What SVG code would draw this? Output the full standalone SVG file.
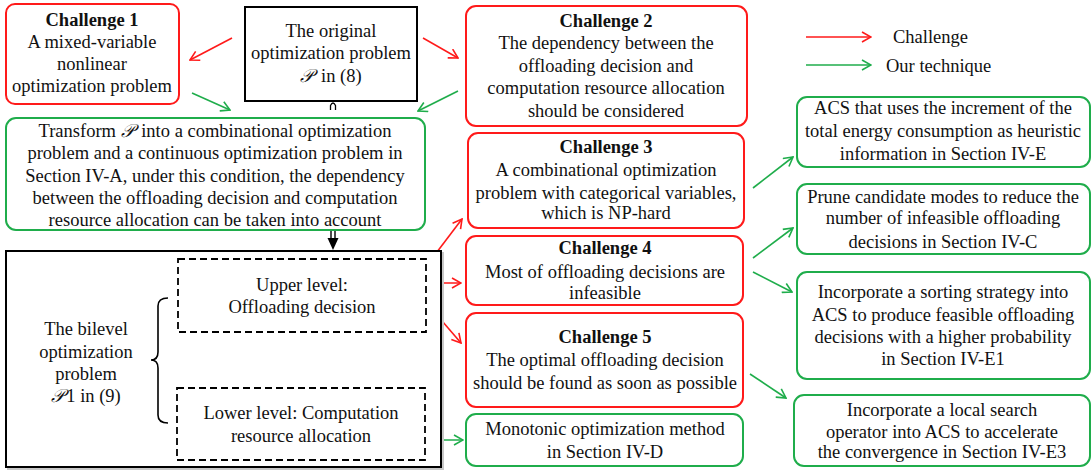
<svg xmlns="http://www.w3.org/2000/svg" width="1091" height="473" viewBox="0 0 1091 473">
<defs>
<style>
text{font-family:"Liberation Serif","Times New Roman",serif;font-size:18.5px;fill:#111;text-anchor:middle}
.b{font-weight:bold}
.p{font-style:italic}
.red{fill:#fff;stroke:#ff1a1a;stroke-width:2}
.grn{fill:#fff;stroke:#1fad4b;stroke-width:2}
.blk{fill:#fff;stroke:#000;stroke-width:2}
.dsh{fill:none;stroke:#000;stroke-width:1.8;stroke-dasharray:7,4}
.ar{stroke:#ff1a1a;stroke-width:1.6;fill:none;marker-end:url(#mr)}
.ag{stroke:#1fad4b;stroke-width:1.6;fill:none;marker-end:url(#mg)}
</style>
<marker id="mr" viewBox="0 0 12 12" refX="11" refY="6" markerWidth="12" markerHeight="12" markerUnits="userSpaceOnUse" orient="auto"><path d="M2,1 L11,6 L2,11" fill="none" stroke="#ff1a1a" stroke-width="1.6"/></marker>
<marker id="mg" viewBox="0 0 12 12" refX="11" refY="6" markerWidth="12" markerHeight="12" markerUnits="userSpaceOnUse" orient="auto"><path d="M2,1 L11,6 L2,11" fill="none" stroke="#1fad4b" stroke-width="1.6"/></marker>
</defs>
<rect width="1091" height="473" fill="#fff"/>

<g id="connectors">
<line class="ar" x1="232" y1="38" x2="190" y2="60"/>
<line class="ar" x1="423" y1="38" x2="458" y2="58"/>
<line class="ag" x1="192" y1="93" x2="230" y2="110"/>
<line class="ag" x1="458" y1="91" x2="418" y2="111"/>
<path d="M330.5,110 V105.5 Q333,100.5 335.5,105.5 V110" fill="none" stroke="#000" stroke-width="1.3"/>
<path d="M331,230 V240 M335,230 V240" stroke="#000" stroke-width="1.4"/>
<path d="M327.5,238 L338.5,238 L333,250 Z" fill="#000"/>
<line class="ar" x1="418" y1="277" x2="462" y2="219"/>
<line class="ar" x1="418" y1="283" x2="461" y2="283"/>
<line class="ar" x1="418" y1="293" x2="461" y2="343"/>
<line class="ag" x1="417" y1="440" x2="463" y2="440"/>
<line class="ag" x1="753" y1="188" x2="793" y2="157"/>
<line class="ag" x1="753" y1="258" x2="793" y2="228"/>
<line class="ag" x1="753" y1="272" x2="792" y2="292"/>
<line class="ag" x1="750" y1="374" x2="786" y2="398"/>
</g>

<g id="legend">
<line class="ar" x1="806" y1="37" x2="871" y2="37"/>
<text x="893" y="43" style="text-anchor:start">Challenge</text>
<line class="ag" x1="806" y1="65" x2="871" y2="65"/>
<text x="886" y="72" style="text-anchor:start">Our technique</text>
</g>

<g id="challenge1">
<rect class="red" x="6" y="4" width="173" height="100" rx="9"/>
<text class="b" x="92" y="26">Challenge 1</text>
<text x="92" y="48">A mixed-variable</text>
<text x="92" y="70">nonlinear</text>
<text x="92" y="92">optimization problem</text>
</g>

<g id="original">
<rect class="blk" x="245" y="7" width="172" height="94"/>
<text x="331" y="37">The original</text>
<text x="331" y="59">optimization problem</text>
<text x="331" y="82"><tspan class="p">𝒫</tspan><tspan dx="3"> in (8)</tspan></text>
</g>

<g id="challenge2">
<rect class="red" x="466" y="6" width="281" height="120" rx="10"/>
<text class="b" x="606" y="27">Challenge 2</text>
<text x="606" y="49">The dependency between the</text>
<text x="606" y="72">offloading decision and</text>
<text x="606" y="94">computation resource allocation</text>
<text x="606" y="117">should be considered</text>
</g>

<g id="transform">
<rect class="grn" x="6" y="118" width="419" height="112" rx="10"/>
<text x="215" y="137">Transform <tspan class="p">𝒫</tspan><tspan dx="3"> into a combinational optimization</tspan></text>
<text x="215" y="159">problem and a continuous optimization problem in</text>
<text x="215" y="182">Section IV-A, under this condition,  the dependency</text>
<text x="215" y="204">between the offloading decision and computation</text>
<text x="215" y="226">resource allocation can be taken into account</text>
</g>

<g id="challenge3">
<rect class="red" x="468" y="133" width="276" height="95" rx="10"/>
<text class="b" x="606" y="153">Challenge 3</text>
<text x="606" y="176">A combinational optimization</text>
<text x="606" y="199">problem with categorical variables,</text>
<text x="606" y="219">which is NP-hard</text>
</g>

<g id="challenge4">
<rect class="red" x="466" y="236" width="277" height="69" rx="10"/>
<text class="b" x="605" y="254">Challenge 4</text>
<text x="605" y="278">Most of offloading decisions are</text>
<text x="605" y="299">infeasible</text>
</g>

<g id="challenge5">
<rect class="red" x="466" y="313" width="277" height="94" rx="10"/>
<text class="b" x="605" y="343">Challenge 5</text>
<text x="605" y="366">The optimal offloading decision</text>
<text x="605" y="389">should be found as soon as possible</text>
</g>

<g id="monotonic">
<rect class="grn" x="466" y="414" width="277" height="52" rx="10"/>
<text x="605" y="435">Monotonic optimization method</text>
<text x="605" y="458">in Section IV-D</text>
</g>

<g id="bilevel">
<rect x="8" y="253" width="435" height="216" fill="none" stroke="#c8c8c8" stroke-width="2"/>
<rect class="blk" x="6" y="251" width="435" height="216" fill="none"/>
<text x="86" y="335">The bilevel</text>
<text x="86" y="358">optimization</text>
<text x="86" y="380">problem</text>
<text x="86" y="402"><tspan class="p">𝒫</tspan><tspan dx="2">1 in (9)</tspan></text>
<path d="M168,298 Q158,298 158,306 V352 Q158,360 151,360 Q158,360 158,368 V415 Q158,423 168,423" fill="none" stroke="#000" stroke-width="1.6"/>
</g>

<g id="upper">
<rect class="dsh" x="178" y="259" width="248" height="73"/>
<text x="302" y="291">Upper level:</text>
<text x="302" y="313">Offloading decision</text>
</g>

<g id="lower">
<rect class="dsh" x="177" y="388" width="248" height="72"/>
<text x="301" y="419">Lower level: Computation</text>
<text x="301" y="442">resource allocation</text>
</g>

<g id="acs">
<rect class="grn" x="797" y="97" width="293" height="70" rx="10"/>
<text x="943" y="114">ACS that uses the increment of the</text>
<text x="943" y="137">total energy consumption as heuristic</text>
<text x="943" y="160">information in Section IV-E</text>
</g>

<g id="prune">
<rect class="grn" x="797" y="184" width="293" height="70" rx="10"/>
<text x="943" y="203">Prune candidate modes to reduce the</text>
<text x="943" y="224">number of infeasible offloading</text>
<text x="943" y="248">decisions in Section IV-C</text>
</g>

<g id="sorting">
<rect class="grn" x="797" y="272" width="293" height="107" rx="10"/>
<text x="943" y="298">Incorporate a sorting strategy into</text>
<text x="943" y="321">ACS  to produce feasible offloading</text>
<text x="943" y="343">decisions with a higher probability</text>
<text x="943" y="365">in Section IV-E1</text>
</g>

<g id="local">
<rect class="grn" x="794" y="395" width="296" height="71" rx="10"/>
<text x="942" y="416">Incorporate a local search</text>
<text x="942" y="438">operator into ACS to accelerate</text>
<text x="942" y="458">the convergence in Section IV-E3</text>
</g>
</svg>
